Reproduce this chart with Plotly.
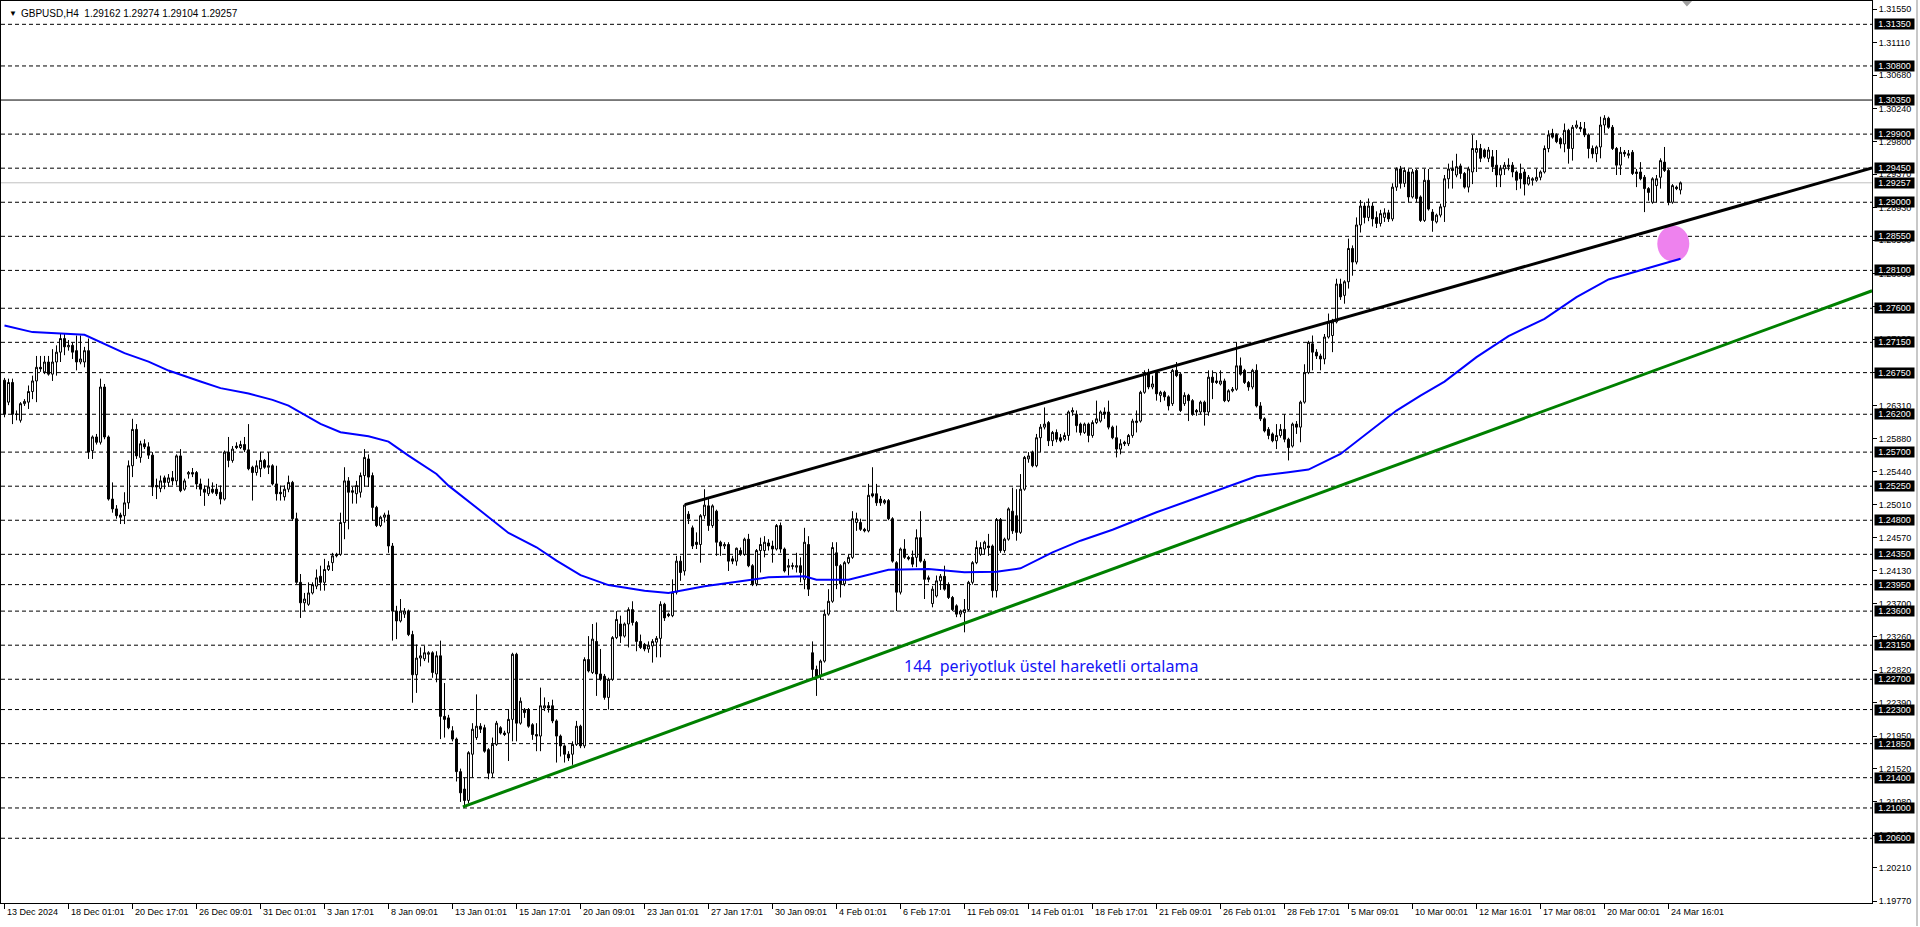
import plotly.graph_objects as go

# ---------------- data (H4 bars, 13 Dec 2024 09:01 -> 25 Mar 2025 04:01) ----------------
opens = [
1.2665,1.2636,1.2662,1.2620,1.2612,1.2634,1.2636,1.2650,1.2664,1.2682,
1.2676,1.2689,1.2673,1.2689,1.2702,1.2720,1.2709,1.2711,1.2704,1.2689,
1.2689,1.2704,1.2572,1.2590,1.2583,1.2656,1.2590,1.2508,1.2495,1.2487,
1.2486,1.2503,1.2552,1.2600,1.2563,1.2581,1.2577,1.2566,1.2526,1.2522,
1.2536,1.2530,1.2536,1.2532,1.2565,1.2521,1.2541,1.2543,1.2543,1.2528,
1.2521,1.2515,1.2521,1.2521,1.2517,1.2508,1.2570,1.2559,1.2578,1.2576,
1.2580,1.2573,1.2550,1.2543,1.2548,1.2559,1.2550,1.2552,1.2528,1.2517,
1.2511,1.2521,1.2530,1.2482,1.2398,1.2371,1.2369,1.2384,1.2393,1.2406,
1.2398,1.2415,1.2424,1.2435,1.2435,1.2477,1.2532,1.2519,1.2515,1.2517,
1.2539,1.2561,1.2539,1.2497,1.2473,1.2484,1.2487,1.2446,1.2360,1.2347,
1.2356,1.2360,1.2329,1.2276,1.2298,1.2297,1.2303,1.2305,1.2277,1.2301,
1.2221,1.2219,1.2202,1.2191,1.2148,1.2125,1.2110,1.2171,1.2193,1.2208,
1.2206,1.2177,1.2146,1.2184,1.2206,1.2199,1.2199,1.2217,1.2303,1.2212,
1.2230,1.2230,1.2210,1.2197,1.2195,1.2232,1.2235,1.2235,1.2215,1.2195,
1.2182,1.2171,1.2171,1.2184,1.2208,1.2182,1.2296,1.2279,1.2320,1.2277,
1.2274,1.2246,1.2270,1.2325,1.2343,1.2327,1.2343,1.2362,1.2345,1.2320,
1.2316,1.2310,1.2314,1.2319,1.2324,1.2369,1.2356,1.2354,1.2385,1.2426,
1.2413,1.2488,1.2470,1.2451,1.2448,1.2486,1.2499,1.2473,1.2492,1.2451,
1.2446,1.2448,1.2429,1.2426,1.2440,1.2435,1.2455,1.2420,1.2396,1.2440,
1.2440,1.2450,1.2446,1.2442,1.2473,1.2442,1.2418,1.2419,1.2418,1.2420,
1.2402,1.2448,1.2305,1.2283,1.2274,1.2294,1.2356,1.2373,1.2437,1.2420,
1.2396,1.2424,1.2431,1.2477,1.2477,1.2468,1.2466,1.2515,1.2515,1.2508,
1.2503,1.2506,1.2482,1.2424,1.2385,1.2442,1.2431,1.2431,1.2431,1.2457,
1.2426,1.2404,1.2370,1.2380,1.2400,1.2406,1.2395,1.2378,1.2367,1.2356,
1.2358,1.2362,1.2398,1.2424,1.2435,1.2442,1.2446,1.2446,1.2387,1.2481,
1.2440,1.2455,1.2492,1.2486,1.2464,1.2521,1.2561,1.2570,1.2552,1.2589,
1.2603,1.2609,1.2585,1.2596,1.2589,1.2587,1.2592,1.2623,1.2620,1.2607,
1.2596,1.2607,1.2592,1.2609,1.2611,1.2623,1.2623,1.2603,1.2589,1.2574,
1.2583,1.2581,1.2592,1.2609,1.2611,1.2649,1.2675,1.2656,1.2675,1.2645,
1.2649,1.2643,1.2634,1.2678,1.2673,1.2634,1.2645,1.2638,1.2625,1.2623,
1.2636,1.2623,1.2669,1.2664,1.2660,1.2664,1.2638,1.2651,1.2653,1.2684,
1.2678,1.2662,1.2656,1.2678,1.2631,1.2614,1.2600,1.2594,1.2585,1.2592,
1.2600,1.2587,1.2578,1.2607,1.2603,1.2636,1.2675,1.2713,1.2702,1.2697,
1.2693,1.2722,1.2724,1.2742,1.2792,1.2777,1.2795,1.2839,1.2821,1.2870,
1.2895,1.2880,1.2895,1.2880,1.2872,1.2880,1.2886,1.2878,1.2920,1.2944,
1.2925,1.2940,1.2907,1.2942,1.2907,1.2876,1.2929,1.2887,1.2874,1.2883,
1.2894,1.2931,1.2944,1.2936,1.2948,1.2938,1.2920,1.2940,1.2966,1.2971,
1.2969,1.2958,1.2960,1.2949,1.2936,1.2944,1.2947,1.2949,1.2940,1.2938,
1.2940,1.2924,1.2929,1.2929,1.2933,1.2940,1.2971,1.2991,1.2989,1.2984,
1.2977,1.2995,1.2971,1.2999,1.2999,1.2997,1.2989,1.2971,1.2964,1.2973,
1.3002,1.3011,1.2999,1.2971,1.2949,1.2966,1.2962,1.2966,1.2940,1.2940,
1.2933,1.2918,1.2900,1.2922,1.2933,1.2953,1.2942,1.2900,1.2920,1.29162,
]
highs = [
1.2668,1.2667,1.2667,1.2625,1.2636,1.2640,1.2658,1.2671,1.2697,1.2697,
1.2697,1.2697,1.2706,1.2711,1.2726,1.2726,1.2718,1.2715,1.2724,1.2724,
1.2709,1.2720,1.2592,1.2594,1.2667,1.2660,1.2592,1.2530,1.2500,1.2490,
1.2517,1.2559,1.2614,1.2607,1.2585,1.2587,1.2583,1.2570,1.2535,1.2539,
1.2539,1.2541,1.2545,1.2567,1.2574,1.2535,1.2545,1.2549,1.2545,1.2535,
1.2526,1.2535,1.2530,1.2528,1.2526,1.2572,1.2590,1.2578,1.2583,1.2585,
1.2590,1.2607,1.2552,1.2559,1.2570,1.2561,1.2570,1.2554,1.2552,1.2526,
1.2526,1.2539,1.2532,1.2490,1.2409,1.2384,1.2398,1.2398,1.2415,1.2420,
1.2429,1.2426,1.2437,1.2437,1.2490,1.2550,1.2537,1.2524,1.2532,1.2543,
1.2574,1.2567,1.2543,1.2499,1.2486,1.2490,1.2493,1.2450,1.2367,1.2376,
1.2364,1.2362,1.2334,1.2316,1.2312,1.2314,1.2307,1.2307,1.2307,1.2321,
1.2265,1.2223,1.2208,1.2193,1.2152,1.2140,1.2175,1.2212,1.2250,1.2212,
1.2210,1.2179,1.2193,1.2215,1.2208,1.2202,1.2230,1.2305,1.2305,1.2246,
1.2232,1.2232,1.2212,1.2212,1.2259,1.2246,1.2240,1.2243,1.2217,1.2197,
1.2184,1.2175,1.2188,1.2215,1.2210,1.2299,1.2327,1.2343,1.2345,1.2310,
1.2277,1.2272,1.2327,1.2360,1.2354,1.2345,1.2365,1.2373,1.2347,1.2329,
1.2318,1.2320,1.2323,1.2327,1.2373,1.2371,1.2358,1.2402,1.2433,1.2433,
1.2501,1.2492,1.2473,1.2464,1.2488,1.2521,1.2508,1.2501,1.2494,1.2453,
1.2451,1.2451,1.2433,1.2444,1.2444,1.2457,1.2462,1.2422,1.2442,1.2457,
1.2459,1.2455,1.2453,1.2475,1.2477,1.2444,1.2429,1.2424,1.2437,1.2431,
1.2470,1.2459,1.2320,1.2288,1.2296,1.2362,1.2389,1.2451,1.2451,1.2422,
1.2426,1.2435,1.2492,1.2490,1.2482,1.2470,1.2528,1.2550,1.2528,1.2512,
1.2508,1.2508,1.2484,1.2426,1.2444,1.2455,1.2433,1.2440,1.2468,1.2492,
1.2429,1.2407,1.2393,1.2407,1.2409,1.2420,1.2398,1.2380,1.2369,1.2362,
1.2376,1.2400,1.2426,1.2453,1.2451,1.2453,1.2462,1.2448,1.2483,1.2483,
1.2457,1.2497,1.2523,1.2521,1.2541,1.2565,1.2570,1.2572,1.2594,1.2607,
1.2629,1.2611,1.2598,1.2600,1.2594,1.2596,1.2625,1.2629,1.2625,1.2609,
1.2609,1.2609,1.2612,1.2638,1.2625,1.2629,1.2638,1.2605,1.2605,1.2587,
1.2585,1.2594,1.2614,1.2625,1.2651,1.2678,1.2680,1.2671,1.2678,1.2651,
1.2651,1.2645,1.2680,1.2689,1.2675,1.2649,1.2647,1.2640,1.2627,1.2638,
1.2638,1.2678,1.2678,1.2675,1.2678,1.2667,1.2653,1.2656,1.2715,1.2695,
1.2680,1.2664,1.2680,1.2686,1.2636,1.2616,1.2603,1.2596,1.2607,1.2607,
1.2620,1.2589,1.2609,1.2611,1.2638,1.2686,1.2717,1.2724,1.2706,1.2700,
1.2726,1.2753,1.2746,1.2799,1.2799,1.2797,1.2852,1.2843,1.2880,1.2903,
1.2900,1.2905,1.2900,1.2888,1.2890,1.2892,1.2890,1.2925,1.2946,1.2948,
1.2946,1.2944,1.2944,1.2944,1.2909,1.2944,1.2944,1.2891,1.2885,1.2898,
1.2936,1.2951,1.2955,1.2964,1.2951,1.2940,1.2947,1.2989,1.2982,1.2977,
1.2971,1.2973,1.2969,1.2969,1.2949,1.2953,1.2958,1.2953,1.2942,1.2951,
1.2944,1.2936,1.2933,1.2944,1.2942,1.2975,1.2995,1.2997,1.2991,1.2986,
1.3004,1.2997,1.3002,1.3008,1.3006,1.3006,1.2991,1.2975,1.2975,1.3013,
1.3015,1.3013,1.3002,1.2973,1.2973,1.2969,1.2969,1.2969,1.2944,1.2953,
1.2936,1.2920,1.2933,1.2936,1.2958,1.2973,1.2944,1.2924,1.2922,1.29274,
]
lows = [
1.2616,1.2632,1.2607,1.2612,1.2609,1.2631,1.2627,1.2640,1.2636,1.2676,
1.2673,1.2671,1.2664,1.2671,1.2689,1.2698,1.2704,1.2693,1.2678,1.2686,
1.2682,1.2561,1.2561,1.2580,1.2580,1.2587,1.2506,1.2490,1.2482,1.2475,
1.2475,1.2495,1.2537,1.2561,1.2556,1.2574,1.2561,1.2512,1.2508,1.2517,
1.2521,1.2524,1.2526,1.2526,1.2517,1.2519,1.2535,1.2537,1.2521,1.2512,
1.2499,1.2512,1.2515,1.2512,1.2501,1.2506,1.2550,1.2556,1.2574,1.2574,
1.2570,1.2546,1.2506,1.2539,1.2537,1.2548,1.2541,1.2526,1.2506,1.2506,
1.2506,1.2517,1.2479,1.2396,1.2351,1.2360,1.2367,1.2382,1.2389,1.2387,
1.2387,1.2413,1.2413,1.2431,1.2433,1.2455,1.2468,1.2502,1.2502,1.2510,
1.2524,1.2524,1.2479,1.2471,1.2471,1.2477,1.2437,1.2321,1.2323,1.2345,
1.2351,1.2327,1.2239,1.2252,1.2287,1.2294,1.2292,1.2272,1.2266,1.2191,
1.2193,1.2204,1.2188,1.2135,1.2108,1.2100,1.2106,1.2140,1.2190,1.2199,
1.2173,1.2138,1.2140,1.2182,1.2197,1.2195,1.2162,1.2188,1.2188,1.2210,
1.2219,1.2206,1.2190,1.2175,1.2175,1.2228,1.2226,1.2212,1.2160,1.2168,
1.2160,1.2162,1.2157,1.2182,1.2179,1.2179,1.2279,1.2277,1.2248,1.2268,
1.2243,1.2230,1.2268,1.2323,1.2318,1.2325,1.2312,1.2341,1.2307,1.2310,
1.2307,1.2305,1.2292,1.2299,1.2299,1.2347,1.2352,1.2352,1.2382,1.2400,
1.2407,1.2475,1.2442,1.2442,1.2424,1.2482,1.2466,1.2470,1.2433,1.2433,
1.2442,1.2413,1.2422,1.2420,1.2433,1.2433,1.2418,1.2393,1.2393,1.2411,
1.2431,1.2440,1.2424,1.2440,1.2437,1.2411,1.2407,1.2415,1.2411,1.2398,
1.2389,1.2380,1.2270,1.2248,1.2270,1.2292,1.2354,1.2371,1.2389,1.2378,
1.2393,1.2422,1.2429,1.2466,1.2466,1.2464,1.2464,1.2510,1.2499,1.2499,
1.2501,1.2480,1.2424,1.2360,1.2382,1.2429,1.2427,1.2418,1.2418,1.2424,
1.2376,1.2398,1.2365,1.2378,1.2388,1.2387,1.2376,1.2360,1.2352,1.2352,
1.2332,1.2360,1.2395,1.2422,1.2433,1.2435,1.2433,1.2378,1.2378,1.2437,
1.2437,1.2453,1.2462,1.2453,1.2462,1.2519,1.2556,1.2550,1.2550,1.2570,
1.2600,1.2578,1.2578,1.2583,1.2583,1.2585,1.2585,1.2618,1.2596,1.2592,
1.2594,1.2583,1.2589,1.2607,1.2609,1.2614,1.2600,1.2587,1.2563,1.2567,
1.2578,1.2578,1.2589,1.2596,1.2609,1.2647,1.2653,1.2653,1.2638,1.2636,
1.2638,1.2625,1.2631,1.2669,1.2623,1.2631,1.2611,1.2618,1.2618,1.2620,
1.2605,1.2618,1.2640,1.2660,1.2658,1.2636,1.2636,1.2649,1.2651,1.2671,
1.2660,1.2651,1.2653,1.2629,1.2611,1.2596,1.2587,1.2583,1.2574,1.2589,
1.2583,1.2559,1.2576,1.2594,1.2583,1.2634,1.2673,1.2678,1.2693,1.2678,
1.2686,1.2720,1.2702,1.2740,1.2771,1.2766,1.2786,1.2803,1.2818,1.2860,
1.2872,1.2875,1.2868,1.2866,1.2868,1.2874,1.2874,1.2875,1.2915,1.2918,
1.2920,1.2900,1.2905,1.2900,1.2874,1.2874,1.2889,1.2861,1.2872,1.2880,
1.2874,1.2918,1.2918,1.2933,1.2931,1.2918,1.2913,1.2924,1.2940,1.2953,
1.2958,1.2953,1.2940,1.2920,1.2920,1.2936,1.2942,1.2933,1.2916,1.2918,
1.2909,1.2922,1.2922,1.2927,1.2929,1.2938,1.2966,1.2984,1.2978,1.2971,
1.2966,1.2951,1.2955,1.2997,1.2993,1.2986,1.2958,1.2958,1.2953,1.2958,
1.2991,1.2997,1.2969,1.2936,1.2936,1.2960,1.2958,1.2936,1.2920,1.2929,
1.2887,1.2902,1.2898,1.2900,1.2918,1.2940,1.2896,1.2898,1.2916,1.29104,
]
closes = [
1.2620,1.2662,1.2620,1.2620,1.2634,1.2637,1.2650,1.2664,1.2682,1.2680,
1.2689,1.2673,1.2689,1.2702,1.2720,1.2709,1.2711,1.2702,1.2689,1.2693,
1.2704,1.2570,1.2590,1.2583,1.2656,1.2590,1.2508,1.2495,1.2486,1.2484,
1.2503,1.2552,1.2600,1.2565,1.2581,1.2577,1.2566,1.2524,1.2524,1.2532,
1.2530,1.2536,1.2532,1.2565,1.2519,1.2532,1.2543,1.2541,1.2528,1.2521,
1.2517,1.2524,1.2517,1.2515,1.2508,1.2570,1.2559,1.2574,1.2576,1.2580,
1.2573,1.2548,1.2543,1.2552,1.2559,1.2550,1.2552,1.2528,1.2515,1.2515,
1.2521,1.2530,1.2482,1.2398,1.2371,1.2376,1.2384,1.2395,1.2404,1.2398,
1.2415,1.2420,1.2433,1.2433,1.2477,1.2532,1.2517,1.2517,1.2526,1.2539,
1.2563,1.2537,1.2497,1.2473,1.2484,1.2487,1.2446,1.2360,1.2347,1.2360,
1.2360,1.2329,1.2276,1.2298,1.2301,1.2305,1.2305,1.2279,1.2301,1.2221,
1.2217,1.2206,1.2191,1.2148,1.2120,1.2110,1.2173,1.2204,1.2208,1.2204,
1.2175,1.2146,1.2184,1.2212,1.2199,1.2197,1.2217,1.2303,1.2212,1.2241,
1.2226,1.2208,1.2197,1.2195,1.2235,1.2235,1.2232,1.2215,1.2195,1.2182,
1.2171,1.2166,1.2184,1.2208,1.2182,1.2296,1.2281,1.2323,1.2277,1.2270,
1.2246,1.2270,1.2325,1.2349,1.2327,1.2343,1.2362,1.2345,1.2320,1.2312,
1.2310,1.2315,1.2320,1.2324,1.2369,1.2351,1.2354,1.2385,1.2426,1.2411,
1.2500,1.2482,1.2446,1.2448,1.2486,1.2500,1.2473,1.2499,1.2451,1.2446,
1.2448,1.2426,1.2426,1.2443,1.2435,1.2455,1.2420,1.2396,1.2440,1.2448,
1.2451,1.2446,1.2442,1.2473,1.2442,1.2413,1.2420,1.2420,1.2420,1.2411,
1.2451,1.2389,1.2283,1.2274,1.2294,1.2356,1.2373,1.2444,1.2420,1.2396,
1.2424,1.2431,1.2482,1.2482,1.2468,1.2466,1.2513,1.2512,1.2503,1.2503,
1.2506,1.2482,1.2426,1.2385,1.2442,1.2431,1.2429,1.2422,1.2457,1.2426,
1.2402,1.2402,1.2389,1.2400,1.2406,1.2389,1.2378,1.2362,1.2356,1.2360,
1.2362,1.2398,1.2424,1.2444,1.2444,1.2451,1.2444,1.2387,1.2481,1.2440,
1.2455,1.2495,1.2466,1.2464,1.2521,1.2563,1.2565,1.2552,1.2589,1.2603,
1.2607,1.2585,1.2596,1.2587,1.2585,1.2592,1.2623,1.2625,1.2605,1.2596,
1.2607,1.2592,1.2609,1.2614,1.2623,1.2620,1.2603,1.2589,1.2574,1.2581,
1.2581,1.2592,1.2611,1.2611,1.2649,1.2675,1.2656,1.2660,1.2647,1.2649,
1.2643,1.2631,1.2678,1.2671,1.2625,1.2645,1.2638,1.2620,1.2623,1.2636,
1.2623,1.2669,1.2662,1.2662,1.2664,1.2638,1.2651,1.2653,1.2684,1.2673,
1.2662,1.2656,1.2678,1.2631,1.2614,1.2598,1.2592,1.2585,1.2592,1.2600,
1.2587,1.2576,1.2607,1.2603,1.2636,1.2675,1.2715,1.2702,1.2697,1.2693,
1.2722,1.2742,1.2742,1.2792,1.2775,1.2795,1.2839,1.2821,1.2870,1.2895,
1.2880,1.2895,1.2878,1.2872,1.2885,1.2886,1.2878,1.2920,1.2944,1.2925,
1.2942,1.2907,1.2940,1.2905,1.2876,1.2929,1.2891,1.2876,1.2883,1.2894,
1.2931,1.2944,1.2942,1.2947,1.2938,1.2920,1.2944,1.2971,1.2971,1.2958,
1.2960,1.2969,1.2947,1.2936,1.2944,1.2949,1.2949,1.2940,1.2929,1.2931,
1.2924,1.2933,1.2931,1.2933,1.2940,1.2971,1.2989,1.2986,1.2980,1.2977,
1.2995,1.2971,1.2999,1.3002,1.2997,1.2989,1.2971,1.2964,1.2973,1.3002,
1.3011,1.2999,1.2971,1.2949,1.2966,1.2964,1.2964,1.2938,1.2938,1.2931,
1.2918,1.2913,1.2931,1.2931,1.2955,1.2942,1.2900,1.2922,1.2918,1.29257,
]

# 144-period EMA at these bar positions
ema_bar = [0,7,20,23,30,36,41,49,54,61,67,71,79,84,91,96,101,108,111,119,126,133,138,144,
           151,160,166,175,183,191,200,203,211,221,231,236,240,248,254,262,269,277,288,295,
           305,313,321,326,334,342,348,354,360,368,376,385,393,401,410,419]
ema_val = [1.27372,1.27285,1.27249,1.27174,1.27007,1.26896,1.26777,1.26632,1.26545,1.26473,
           1.26390,1.26315,1.26073,1.25963,1.25910,1.25839,1.25654,1.25412,1.25257,1.24926,
           1.24632,1.24443,1.24266,1.24076,1.23944,1.23869,1.23838,1.23927,1.23988,1.24046,
           1.24059,1.24014,1.24014,1.24147,1.24156,1.24133,1.24112,1.24120,1.24165,1.24377,
           1.24530,1.24675,1.24905,1.25038,1.25223,1.25381,1.25434,1.25469,1.25676,1.26007,
           1.26249,1.26447,1.26632,1.26955,1.27232,1.27461,1.27748,1.27980,1.28122,1.28254]

# drawn trend lines (bar position, price)
upper_line_bar = [170.1, 466.9]
upper_line_val = [1.25006, 1.29452]
lower_line_bar = [114.6, 466.9]
lower_line_val = [1.21014, 1.27831]

# horizontal levels
dashed_levels = [1.31350, 1.30800, 1.29900, 1.29450, 1.29000, 1.28550, 1.28100, 1.27600,
                 1.27150, 1.26750, 1.26200, 1.25700, 1.25250, 1.24800, 1.24350, 1.23950,
                 1.23600, 1.23150, 1.22700, 1.22300, 1.21850, 1.21400, 1.21000, 1.20600]
solid_level = 1.30350
bid_level = 1.29257

# axis labels
price_ticks = [1.31550, 1.31110, 1.30680, 1.30240, 1.29800, 1.29370, 1.28930, 1.28500, 1.28060,
               1.27620, 1.27190, 1.26750, 1.26310, 1.25880, 1.25440, 1.25010, 1.24570, 1.24130,
               1.23700, 1.23260, 1.22820, 1.22390, 1.21950, 1.21520, 1.21080, 1.20640, 1.20210,
               1.19770]
time_labels = ["13 Dec 2024", "18 Dec 01:01", "20 Dec 17:01", "26 Dec 09:01", "31 Dec 01:01",
               "3 Jan 17:01", "8 Jan 09:01", "13 Jan 01:01", "15 Jan 17:01", "20 Jan 09:01",
               "23 Jan 01:01", "27 Jan 17:01", "30 Jan 09:01", "4 Feb 01:01", "6 Feb 17:01",
               "11 Feb 09:01", "14 Feb 01:01", "18 Feb 17:01", "21 Feb 09:01", "26 Feb 01:01",
               "28 Feb 17:01", "5 Mar 09:01", "10 Mar 00:01", "12 Mar 16:01", "17 Mar 08:01",
               "20 Mar 00:01", "24 Mar 16:01"]
time_label_bar = [16 * k for k in range(len(time_labels))]

marker_bar = 417.2
marker_val = 1.28452
note_text = "144\u00a0\u00a0periyotluk üstel hareketli ortalama"
note_bar = 224.4
note_val = 1.2288
title_text = "GBPUSD,H4\u00a0\u00a01.29162 1.29274 1.29104 1.29257"

# ---------------- figure ----------------
W, H = 1920, 927
ML, MR, MT, MB = 1, 48, 1, 24
Y0, Y1 = 1.19745, 1.31658
X0, X1 = -0.875, 466.875
FONT = "Liberation Sans, Arial, sans-serif"

bars = list(range(len(closes)))

fig = go.Figure()
fig.add_trace(go.Candlestick(
    x=bars, open=opens, high=highs, low=lows, close=closes,
    increasing=dict(line=dict(color="black", width=1), fillcolor="white"),
    decreasing=dict(line=dict(color="black", width=1), fillcolor="black"),
    whiskerwidth=0, hoverinfo="skip", showlegend=False))
fig.add_trace(go.Scatter(x=ema_bar, y=ema_val, mode="lines",
                         line=dict(color="#0000FF", width=2), hoverinfo="skip", showlegend=False))
fig.add_trace(go.Scatter(x=upper_line_bar, y=upper_line_val, mode="lines",
                         line=dict(color="black", width=3), hoverinfo="skip", showlegend=False))
fig.add_trace(go.Scatter(x=lower_line_bar, y=lower_line_val, mode="lines",
                         line=dict(color="#008000", width=3), hoverinfo="skip", showlegend=False))

pw = W - ML - MR
ph = H - MT - MB

shapes = []
for lv in dashed_levels:
    shapes.append(dict(type="line", xref="paper", yref="y", x0=0, x1=1, y0=lv, y1=lv,
                       line=dict(color="black", width=1, dash="4px,3px"), layer="below"))
shapes.append(dict(type="line", xref="paper", yref="y", x0=0, x1=1, y0=solid_level, y1=solid_level,
                   line=dict(color="black", width=1), layer="below"))
shapes.append(dict(type="line", xref="paper", yref="y", x0=0, x1=1, y0=bid_level, y1=bid_level,
                   line=dict(color="#C0C0C0", width=1), layer="below"))
shapes.append(dict(type="circle", xref="x", yref="y", xsizemode="pixel", ysizemode="pixel",
                   xanchor=marker_bar, yanchor=marker_val, x0=-16, x1=16, y0=-18, y1=18,
                   fillcolor="#EE82EE", line=dict(width=0), layer="below"))
shapes.append(dict(type="path", xref="x", yref="y",
                   path=f"M 419.4,{Y1} L 421.9,{Y1} L 420.6,1.31585 Z",
                   fillcolor="#A0A0A0", line=dict(width=0)))
shapes.append(dict(type="line", xref="paper", yref="paper",
                   x0=(1917 - ML) / pw, x1=(1917 - ML) / pw, y0=-(MB - 1) / ph, y1=1 + MT / ph,
                   line=dict(color="#C8C8C8", width=2)))

ann = []
ann.append(dict(xref="paper", yref="paper", x=(7 - ML) / pw, y=1 - (13 - MT) / ph,
                xanchor="left", yanchor="middle", showarrow=False,
                text="\u25BC", font=dict(family=FONT, size=8, color="black")))
ann.append(dict(xref="paper", yref="paper", x=(19 - ML) / pw, y=1 - (13 - MT) / ph,
                xanchor="left", yanchor="middle", showarrow=False,
                text=title_text, font=dict(family=FONT, size=10, color="black")))
ann.append(dict(xref="x", yref="y", x=note_bar, y=note_val, xanchor="left", yanchor="middle",
                showarrow=False, text=note_text,
                font=dict(family="Noto Sans, sans-serif", size=16, color="#1414F5")))
for b, t in zip(time_label_bar, time_labels):
    ann.append(dict(xref="x", yref="paper", x=b, y=0, xanchor="left", yanchor="top",
                    xshift=0, yshift=-2, showarrow=False, text=t,
                    font=dict(family=FONT, size=9, color="black")))
for lv in dashed_levels + [solid_level, bid_level]:
    ann.append(dict(xref="paper", yref="y", x=1, y=lv, xanchor="left", yanchor="middle",
                    xshift=2, showarrow=False, text=f"{lv:.5f}", bgcolor="black",
                    width=39, height=10, borderpad=0, align="center", valign="middle",
                    font=dict(family=FONT, size=9, color="white")))

fig.update_layout(
    width=W, height=H, margin=dict(l=ML, r=MR, t=MT, b=MB, autoexpand=False),
    paper_bgcolor="white", plot_bgcolor="white", hovermode=False,
    shapes=shapes, annotations=ann, showlegend=False,
    xaxis=dict(range=[X0, X1], showgrid=False, zeroline=False, showline=True, mirror=True,
               linecolor="black", linewidth=1, ticks="outside", ticklen=5, tickcolor="black",
               tickvals=time_label_bar, showticklabels=False, automargin=False,
               rangeslider=dict(visible=False), fixedrange=True),
    yaxis=dict(range=[Y0, Y1], side="right", showgrid=False, zeroline=False, showline=True,
               mirror=True, linecolor="black", linewidth=1, ticks="outside", ticklen=4,
               tickcolor="black", tickvals=price_ticks, automargin=False,
               ticktext=[f"{v:.5f}" for v in price_ticks],
               tickfont=dict(family=FONT, size=9, color="black"), fixedrange=True),
)

fig.write_html("out.html", config={"displayModeBar": False},
               post_script="document.body.style.margin='0px';document.body.style.overflow='hidden';")
